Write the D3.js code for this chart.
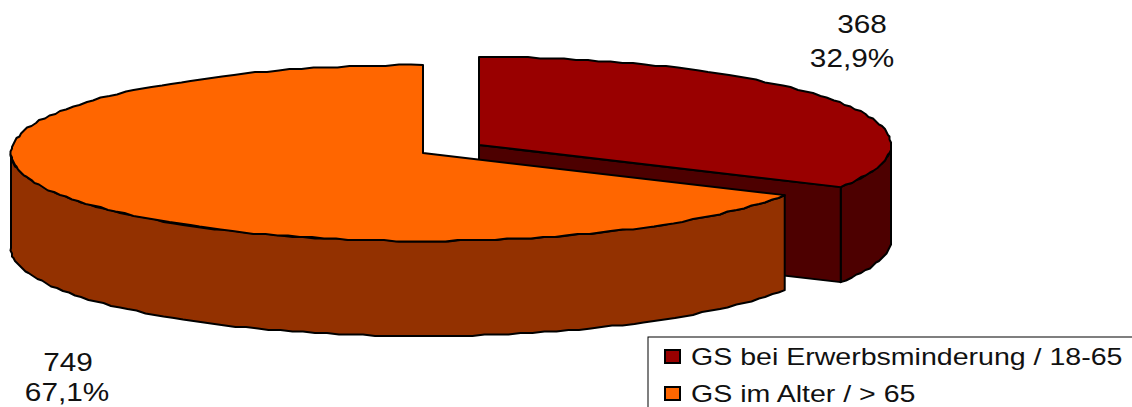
<!DOCTYPE html>
<html>
<head>
<meta charset="utf-8">
<script src="https://cdn.jsdelivr.net/npm/d3@7"></script>
<style>
  html, body { margin: 0; padding: 0; background: #fff; overflow: hidden; }
  svg { display: block; }
  text { font-family: "Liberation Sans", Arial, sans-serif; fill: #111; }
</style>
</head>
<body>
<svg width="1132" height="407"></svg>
<script>
var categories = ['GS bei Erwerbsminderung / 18-65', 'GS im Alter / > 65'];
var values = [368, 749];
var percentLabels = ['32,9%', '67,1%'];
var topColors = ['#990000', '#ff6600'];
var sideColors = ['#4d0000', '#933100'];

var svg = d3.select('svg');
var rx = 412, ry = 88, depth = 95;
var centers = [{x: 479, y: 145}, {x: 423, y: 153}];
var labelPos = [{x: 862, y: 33, x2: 852, y2: 67}, {x: 68, y: 371, x2: 67, y2: 401}];

var slices = d3.pie().sort(null).value(function (d) { return d; })(values);

// snapping to a coarse grid gives the wobbly edge of the old renderer
function snap(v) { return Math.round(v / 1.5) * 1.5; }
var unitX = d3.scaleLinear().domain([-1, 1]);
var unitY = d3.scaleLinear().domain([-1, 1]);

function rimPoints(c, a0, a1, dy) {
  unitX.range([c.x - rx, c.x + rx]);
  unitY.range([c.y - ry + dy, c.y + ry + dy]);
  var n = Math.max(2, Math.ceil(Math.abs(a1 - a0) / 0.03));
  return d3.range(n + 1).map(function (i) {
    var a = a0 + (a1 - a0) * i / n;
    var done = i === 0 || i === n;
    var px = unitX(Math.sin(a)), py = unitY(-Math.cos(a));
    return done ? [px, py] : [snap(px), snap(py)];
  });
}

var line = d3.line();

function addPath(pts, fill) {
  svg.append('path')
    .attr('d', line(pts) + 'Z')
    .attr('fill', fill)
    .attr('stroke', '#000')
    .attr('stroke-width', 2)
    .attr('stroke-linejoin', 'round');
}

// red slice: outer wall, cut face, top
var red = slices[0], cr = centers[0];
var redWallTop = rimPoints(cr, Math.PI / 2, red.endAngle, 0);
var redWallBottom = rimPoints(cr, red.endAngle, Math.PI / 2, depth);
addPath(redWallTop.concat(redWallBottom), sideColors[0]);

var redEnd = rimPoints(cr, red.endAngle, red.endAngle, 0)[0];
addPath([[cr.x, cr.y], redEnd, [redEnd[0], redEnd[1] + depth], [cr.x, cr.y + depth]], sideColors[0]);
addPath([[cr.x, cr.y]].concat(rimPoints(cr, red.startAngle, red.endAngle, 0)), topColors[0]);

// orange slice: outer wall, top
var orange = slices[1], co = centers[1];
var orWallTop = rimPoints(co, orange.startAngle, Math.PI * 1.5, 0);
var orWallBottom = rimPoints(co, Math.PI * 1.5, orange.startAngle, depth);
addPath(orWallTop.concat(orWallBottom), sideColors[1]);
addPath([[co.x, co.y]].concat(rimPoints(co, orange.startAngle, orange.endAngle, 0)), topColors[1]);

// value labels, the reference text is stretched sideways
function stretched(x, y, sx) {
  return 'translate(' + [x, y] + ') scale(' + sx + ',1)';
}
values.forEach(function (v, i) {
  var p = labelPos[i];
  svg.append('text').attr('transform', stretched(p.x, p.y, 1.19)).attr('text-anchor', 'middle')
    .attr('font-size', 25).text(v);
  svg.append('text').attr('transform', stretched(p.x2, p.y2, 1.19)).attr('text-anchor', 'middle')
    .attr('font-size', 25).text(percentLabels[i]);
});

// legend, runs off the right and bottom of the picture
var legend = svg.append('g').attr('transform', 'translate(648,337)');
legend.append('rect').attr('x', 0).attr('y', 0).attr('width', 500).attr('height', 90)
  .attr('fill', '#fff').attr('stroke', '#000').attr('stroke-width', 1);
var legendY = d3.scalePoint().domain(categories).range([12, 49]);
var legendRows = legend.selectAll('g.row').data(categories).enter().append('g')
  .attr('class', 'row')
  .attr('transform', function (d) { return 'translate(0,' + legendY(d) + ')'; });
legendRows.append('rect').attr('x', 17).attr('y', 1).attr('width', 15).attr('height', 13)
  .attr('fill', function (d, i) { return topColors[i]; })
  .attr('stroke', '#000').attr('stroke-width', 2);
legendRows.append('text').attr('transform', stretched(43, 16, 1.19))
  .attr('font-size', 24)
  .text(function (d) { return d; });
</script>
</body>
</html>
